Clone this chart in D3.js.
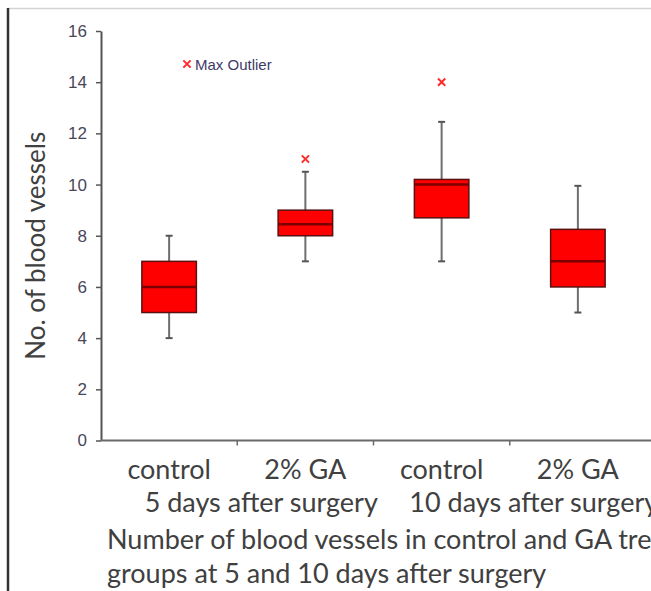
<!DOCTYPE html>
<html>
<head>
<meta charset="utf-8">
<script src="https://cdn.jsdelivr.net/npm/d3@7"></script>
<style>
  html, body { margin: 0; padding: 0; background: #fff; overflow: hidden; }
  svg { display: block; }
</style>
</head>
<body>
<div id="chart"></div>
<script>
// box plot values, one entry per group
const groups = ["control", "2% GA", "control", "2% GA"];
const mins = [4, 7, 7, 5];
const q1s = [5, 8, 8.7, 6];
const medians = [6, 8.45, 10, 7];
const q3s = [7, 9, 10.2, 8.25];
const maxs = [8, 10.5, 12.45, 9.95];
const outliers = [null, 11, 14, null];

const dayLabels = ["5 days after surgery", "10 days after surgery"];
const yTicks = [0, 2, 4, 6, 8, 10, 12, 14, 16];
const caption = [
    "Number of blood vessels in control and GA treated",
    "groups at 5 and 10 days after surgery"
];

const width = 720, height = 591;

const svg = d3.select("#chart")
    .append("svg")
    .attr("width", width)
    .attr("height", height);

// picture frame (left dark edge, faint top edge)
svg.append("line")
    .attr("x1", 8).attr("x2", width).attr("y1", 8.5).attr("y2", 8.5)
    .attr("stroke", "#d4d4d4").attr("stroke-width", 1.5);
svg.append("line")
    .attr("x1", 8).attr("x2", 8).attr("y1", 8).attr("y2", height)
    .attr("stroke", "#333").attr("stroke-width", 2.5);

const keys = groups.map((g, i) => i);
const x = d3.scaleBand().domain(keys).range([101, 646]);
const y = d3.scaleLinear().domain([0, 16]).range([440.5, 31]);

const boxW = x.bandwidth() * 0.4;
const capW = 7;

// y axis
const yAxis = svg.append("g")
    .attr("transform", "translate(101,0)")
    .call(d3.axisLeft(y).tickValues(yTicks).tickSize(5).tickSizeOuter(0).tickPadding(9));
yAxis.select(".domain").attr("stroke", "#555").attr("stroke-width", 2);
yAxis.selectAll(".tick line").attr("stroke", "#555").attr("stroke-width", 1.5);
yAxis.selectAll(".tick text")
    .attr("font-family", "Liberation Sans, Arial, sans-serif")
    .attr("font-size", 17)
    .attr("fill", "#4a4658");

// x axis: baseline and ticks between categories
svg.append("line")
    .attr("x1", x.range()[0]).attr("x2", x.range()[1] + 20)
    .attr("y1", y(0)).attr("y2", y(0))
    .attr("stroke", "#6a6a6a").attr("stroke-width", 2);
svg.selectAll(".xtick")
    .data(keys.slice(1))
    .enter().append("line")
    .attr("class", "xtick")
    .attr("x1", d => x(d)).attr("x2", d => x(d))
    .attr("y1", y(0)).attr("y2", y(0) + 5)
    .attr("stroke", "#6a6a6a").attr("stroke-width", 1.5);

// y title
svg.append("text")
    .attr("transform", `translate(45,${(y(0) + y(16)) / 2 + 10}) rotate(-90)`)
    .attr("text-anchor", "middle")
    .attr("font-family", "Lato, sans-serif")
    .attr("font-size", 26)
    .attr("fill", "#404040")
    .text("No. of blood vessels");

// boxes
const box = svg.selectAll(".box")
    .data(keys)
    .enter().append("g")
    .attr("class", "box")
    .attr("transform", d => `translate(${x(d) + x.bandwidth() / 2},0)`);

box.append("line")
    .attr("y1", d => y(mins[d])).attr("y2", d => y(maxs[d]))
    .attr("stroke", "#6e6e6e").attr("stroke-width", 2);
box.append("line")
    .attr("x1", -capW / 2).attr("x2", capW / 2)
    .attr("y1", d => y(maxs[d])).attr("y2", d => y(maxs[d]))
    .attr("stroke", "#555").attr("stroke-width", 2);
box.append("line")
    .attr("x1", -capW / 2).attr("x2", capW / 2)
    .attr("y1", d => y(mins[d])).attr("y2", d => y(mins[d]))
    .attr("stroke", "#555").attr("stroke-width", 2);
box.append("rect")
    .attr("x", -boxW / 2)
    .attr("width", boxW)
    .attr("y", d => y(q3s[d]))
    .attr("height", d => y(q1s[d]) - y(q3s[d]))
    .attr("fill", "#ff0000")
    .attr("stroke", "#5a1010").attr("stroke-width", 1.5);
box.append("line")
    .attr("x1", -boxW / 2).attr("x2", boxW / 2)
    .attr("y1", d => y(medians[d])).attr("y2", d => y(medians[d]))
    .attr("stroke", "#7a0000").attr("stroke-width", 2.5);

// outliers
const cross = d3.symbol().type(d3.symbolX).size(36);
box.filter(d => outliers[d] != null)
    .append("path")
    .attr("d", cross)
    .attr("transform", d => `translate(0,${y(outliers[d])})`)
    .attr("fill", "none")
    .attr("stroke", "#ff2a2a").attr("stroke-width", 2);

// legend
svg.append("path")
    .attr("d", cross)
    .attr("transform", "translate(187,64)")
    .attr("fill", "none")
    .attr("stroke", "#ff2a2a").attr("stroke-width", 2);
svg.append("text")
    .attr("x", 195).attr("y", 69.5)
    .attr("font-family", "Liberation Sans, Arial, sans-serif")
    .attr("font-size", 15)
    .attr("fill", "#3d3a6a")
    .text("Max Outlier");

// category labels
const labelFont = "Lato, sans-serif";
svg.selectAll(".cat")
    .data(keys)
    .enter().append("text")
    .attr("class", "cat")
    .attr("x", d => x(d) + x.bandwidth() / 2)
    .attr("y", 479)
    .attr("text-anchor", "middle")
    .attr("font-family", labelFont)
    .attr("font-size", 27)
    .attr("fill", "#404040")
    .text(d => groups[d]);

svg.selectAll(".day")
    .data(dayLabels)
    .enter().append("text")
    .attr("class", "day")
    .attr("x", (d, i) => x(i * 2 + 1) + 24)
    .attr("y", 512)
    .attr("text-anchor", "middle")
    .attr("font-family", labelFont)
    .attr("font-size", 27)
    .attr("fill", "#404040")
    .text(d => d);

svg.selectAll(".caption")
    .data(caption)
    .enter().append("text")
    .attr("class", "caption")
    .attr("x", 107)
    .attr("y", (d, i) => 549 + i * 34)
    .attr("font-family", labelFont)
    .attr("font-size", 27)
    .attr("fill", "#404040")
    .text(d => d);
</script>
</body>
</html>
